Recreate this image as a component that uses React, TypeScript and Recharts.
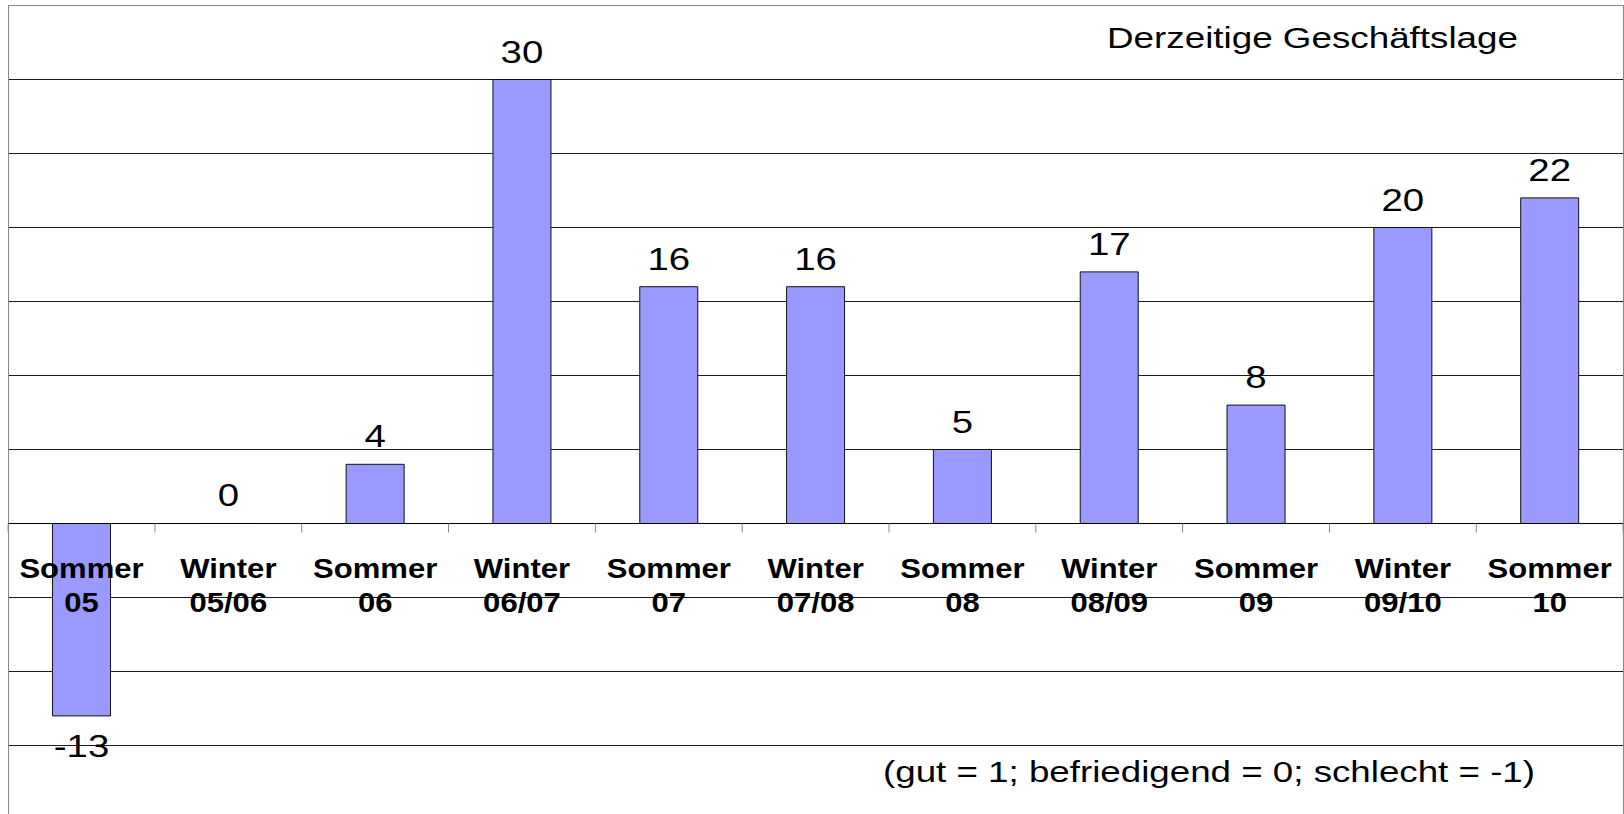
import React from 'react';
import { BarChart, Bar, XAxis, YAxis, CartesianGrid, ReferenceLine, ReferenceArea, LabelList } from 'recharts';

const categories = [
  'Sommer 05', 'Winter 05/06', 'Sommer 06', 'Winter 06/07', 'Sommer 07', 'Winter 07/08',
  'Sommer 08', 'Winter 08/09', 'Sommer 09', 'Winter 09/10', 'Sommer 10',
];
const values = [-13, 0, 4, 30, 16, 16, 5, 17, 8, 20, 22];
const gridTicks = [-15, -10, -5, 5, 10, 15, 20, 25, 30];
const yDomain = [-20, 35];
const title = 'Derzeitige Geschäftslage';
const footnote = '(gut = 1; befriedigend = 0; schlecht = -1)';

const data = categories.map((name, i) => ({ name, value: values[i] }));

const W = 1624;
const H = 830;
const M = { top: 5.5, left: 8.5, right: 0.5, bottom: 10.5 };
const PLOT_W = W - M.left - M.right;
const BAND = PLOT_W / categories.length;
const FONT = '"Liberation Sans", Arial, Helvetica, sans-serif';

const box = (props: any) => {
  const vb = props.viewBox && props.viewBox.width !== undefined ? props.viewBox : props;
  const y = Number(vb.y), h = Number(vb.height);
  return { x: Number(vb.x), w: Number(vb.width), top: Math.min(y, y + h), bottom: Math.max(y, y + h) };
};

const ValueLabel = (props: any) => {
  const v = Number(props.value);
  const b = box(props);
  const cx = b.x + b.w / 2;
  const by = v >= 0 ? b.top - 17 : b.bottom + 41;
  return (
    <text transform={`translate(${cx},${by}) scale(1.2,1)`} textAnchor="middle" fontSize={32} fontFamily={FONT} fill="#000">
      {v}
    </text>
  );
};

const CategoryLabel = (props: any) => {
  const name = String(props.value);
  const index = categories.indexOf(name);
  const v = values[index];
  const b = box(props);
  const zeroY = v >= 0 ? b.bottom : b.top;
  const cx = b.x + b.w / 2;
  const sp = name.indexOf(' ');
  const l1 = name.slice(0, sp);
  const l2 = name.slice(sp + 1);
  const left = cx - BAND / 2;
  return (
    <g>
      <line x1={left} x2={left} y1={zeroY} y2={zeroY + 9} stroke="#888" strokeWidth={1} />
      {index === categories.length - 1 && (
        <line x1={left + BAND} x2={left + BAND} y1={zeroY} y2={zeroY + 9} stroke="#888" strokeWidth={1} />
      )}
      <text transform={`translate(${cx},${zeroY + 54}) scale(1.15,1)`} textAnchor="middle" fontSize={27} fontWeight="bold" fontFamily={FONT} fill="#000">
        {l1}
      </text>
      <text transform={`translate(${cx},${zeroY + 88}) scale(1.15,1)`} textAnchor="middle" fontSize={27} fontWeight="bold" fontFamily={FONT} fill="#000">
        {l2}
      </text>
    </g>
  );
};

export default function App() {
  return (
    <div style={{ position: 'absolute', left: 0, top: 0, width: W, height: 814, overflow: 'hidden', background: '#fff' }}>
      <BarChart width={W} height={H} data={data} margin={M}>
        <ReferenceArea y1={yDomain[0]} y2={yDomain[1]} fill="none" stroke="#888" strokeWidth={1} ifOverflow="extendDomain" />
        <CartesianGrid horizontal={true} vertical={false} stroke="#1a1a1a" strokeWidth={1} />
        <XAxis dataKey="name" type="category" hide />
        <YAxis type="number" domain={yDomain} ticks={gridTicks} hide allowDataOverflow />
        <ReferenceLine y={0} stroke="#000" strokeWidth={1} />
        <Bar dataKey="value" fill="#9999FF" stroke="#111" strokeWidth={1} barSize={58} minPointSize={0.01} isAnimationActive={false}>
          <LabelList dataKey="value" content={ValueLabel} />
          <LabelList dataKey="name" content={CategoryLabel} />
        </Bar>
      </BarChart>
      <svg width={W} height={814} style={{ position: 'absolute', left: 0, top: 0, pointerEvents: 'none' }}>
        <text x={1107} y={48} fontSize={29} fontFamily={FONT} fill="#000" textLength={411} lengthAdjust="spacingAndGlyphs">
          {title}
        </text>
        <text x={883} y={782} fontSize={29} fontFamily={FONT} fill="#000" textLength={652} lengthAdjust="spacingAndGlyphs">
          {footnote}
        </text>
      </svg>
    </div>
  );
}
